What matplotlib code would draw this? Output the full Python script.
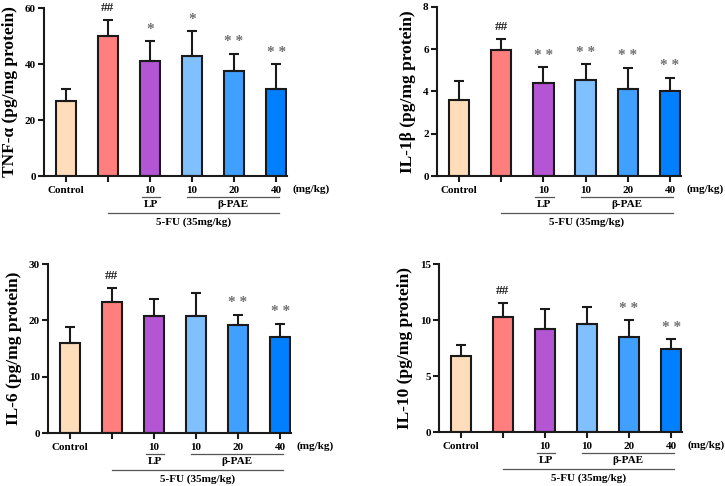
import matplotlib
matplotlib.use("Agg")
import matplotlib.pyplot as plt
import matplotlib.transforms as mtrans

plt.rcParams['font.family'] = ['Liberation Serif', 'DejaVu Serif']
plt.rcParams['font.weight'] = 'bold'

groups = ['Control', '5-FU', 'LP 10', 'β-PAE 10', 'β-PAE 20', 'β-PAE 40']
tick_labels = ['Control', '', '10', '10', '20', '40']
colors = ['#FFDDBB', '#FF7F7F', '#B455D4', '#80C0FF', '#40A0FF', '#0080FF']

tnf_mean = [26.8, 50.0, 41.1, 42.8, 37.5, 31.0]
tnf_sd = [4.4, 5.6, 7.1, 8.9, 6.1, 9.0]
tnf_sig = ['', '##', '*', '*', '* *', '* *']

il1b_mean = [3.6, 5.98, 4.42, 4.55, 4.1, 4.02]
il1b_sd = [0.9, 0.52, 0.73, 0.75, 1.02, 0.63]
il1b_sig = ['', '##', '* *', '* *', '* *', '* *']

il6_mean = [16.0, 23.3, 20.8, 20.8, 19.1, 17.1]
il6_sd = [2.8, 2.5, 2.9, 4.0, 1.9, 2.3]
il6_sig = ['', '##', '', '', '* *', '* *']

il10_mean = [6.75, 10.3, 9.2, 9.6, 8.5, 7.4]
il10_sd = [1.05, 1.2, 1.8, 1.55, 1.5, 0.9]
il10_sig = ['', '##', '', '', '* *', '* *']

panels = [
    dict(mean=tnf_mean, sd=tnf_sd, sig=tnf_sig, ylabel='TNF-α (pg/mg protein)',
         ylim=60, yticks=[0, 20, 40, 60], box=(44, 287, 8, 176)),
    dict(mean=il1b_mean, sd=il1b_sd, sig=il1b_sig, ylabel='IL-1β (pg/mg protein)',
         ylim=8, yticks=[0, 2, 4, 6, 8], box=(437, 681, 7, 176)),
    dict(mean=il6_mean, sd=il6_sd, sig=il6_sig, ylabel='IL-6 (pg/mg protein)',
         ylim=30, yticks=[0, 10, 20, 30], box=(48, 291, 264, 433)),
    dict(mean=il10_mean, sd=il10_sd, sig=il10_sig, ylabel='IL-10 (pg/mg protein)',
         ylim=15, yticks=[0, 5, 10, 15], box=(439, 682, 264, 432)),
]

W, H = 725, 486
fig = plt.figure(figsize=(W / 100, H / 100), dpi=100)

x = list(range(len(groups)))
FS = 8

for p in panels:
    l, r, t, b = p['box']
    ax = fig.add_axes([l / W, (H - b) / H, (r - l) / W, (b - t) / H])
    ax.bar(x, p['mean'], width=0.48, color=colors, edgecolor='#1a1a1a',
           linewidth=1.5, zorder=2)
    ax.errorbar(x, p['mean'], yerr=[[0] * 6, p['sd']], fmt='none',
                ecolor='#1a1a1a', elinewidth=1.5, capsize=3.8, capthick=1.5, zorder=3)
    ax.set_xlim(-0.52, 5.26)
    ax.set_ylim(0, p['ylim'])
    ax.set_yticks(p['yticks'])
    ax.set_xticks(x)
    ax.set_xticklabels(tick_labels)
    for s in ['top', 'right']:
        ax.spines[s].set_visible(False)
    for s in ['left', 'bottom']:
        ax.spines[s].set_linewidth(1.5)
        ax.spines[s].set_color('#1a1a1a')
    ax.tick_params(axis='both', length=4, width=1.5, color='#1a1a1a',
                   labelsize=FS, pad=2)
    ax.tick_params(axis='x', pad=3)
    ax.set_ylabel(p['ylabel'], fontsize=12.5, fontweight='bold', labelpad=5)

    # significance marks
    for i, s in enumerate(p['sig']):
        if not s:
            continue
        top = p['mean'][i] + p['sd'][i]
        col = '#222222' if s == '##' else '#707070'
        off = mtrans.offset_copy(ax.transData, fig=fig, x=0, y=12, units='dots')
        ax.text(i, top, s, transform=off, ha='center', va='center',
                fontsize=9.5 if s == '##' else 11, color=col, fontweight='bold')

    # group annotations below the axis
    def yoff(px):
        return mtrans.offset_copy(ax.get_xaxis_transform(), fig=fig, x=0, y=-px, units='dots')

    ax.text(5.83, 0, '(mg/kg)', transform=yoff(13), ha='center', va='center',
            fontsize=FS, fontweight='bold')
    ax.plot([1.81, 2.24], [0, 0], transform=yoff(21), color='#555555', lw=0.9, clip_on=False)
    ax.plot([2.88, 5.07], [0, 0], transform=yoff(21), color='#555555', lw=0.9, clip_on=False)
    ax.text(2.02, 0, 'LP', transform=yoff(28.5), ha='center', va='center',
            fontsize=FS, fontweight='bold')
    ax.text(3.97, 0, 'β-PAE', transform=yoff(28.5), ha='center', va='center',
            fontsize=FS, fontweight='bold')
    ax.plot([1.0, 5.07], [0, 0], transform=yoff(36.5), color='#555555', lw=0.9, clip_on=False)
    ax.text(3.03, 0, '5-FU (35mg/kg)', transform=yoff(46.5), ha='center', va='center',
            fontsize=FS, fontweight='bold')

fig.savefig('out.png', dpi=100)
